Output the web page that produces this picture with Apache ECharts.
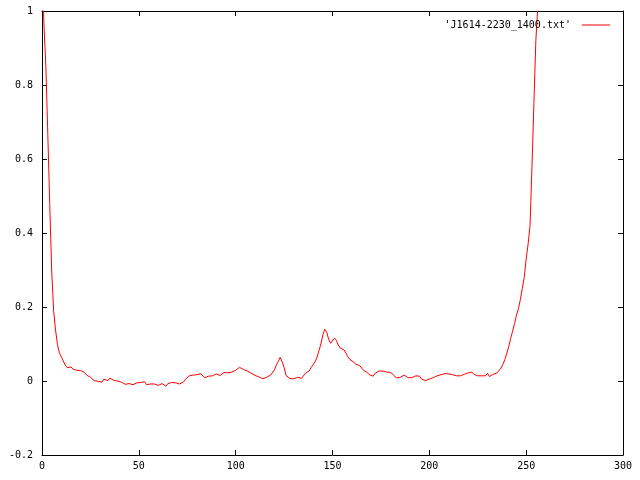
<!DOCTYPE html>
<html>
<head>
<meta charset="utf-8">
<script src="https://cdn.jsdelivr.net/npm/echarts@6/dist/echarts.min.js"></script>
<style>html,body{margin:0;padding:0;background:#fff}#c{width:640px;height:480px}</style>
</head>
<body>
<div id="c"></div>
<script>
const seriesName = "'J1614-2230_1400.txt'";
// sample values, index 0..63
const valuesA = [1.15,0.965,0.85,0.667,0.477,0.30,0.19,0.138,0.098,0.076,0.065,0.054,0.043,0.036,0.035,0.038,
0.032,0.029,0.029,0.028,0.028,0.024,0.023,0.016,0.012,0.010,0.005,0.001,0.003,-0.001,-0.002,-0.003,
0.005,0.004,0.001,0.008,0.003,0.002,0.002,0.000,0.001,-0.003,-0.006,-0.009,-0.009,-0.007,-0.008,-0.010,
-0.006,-0.005,-0.004,-0.004,-0.005,-0.002,-0.010,-0.005,-0.008,-0.006,-0.008,-0.010,-0.012,-0.011,-0.007,-0.005];
// index 64..127
const valuesB = [-0.014,-0.007,-0.006,-0.004,-0.003,-0.005,-0.006,-0.008,-0.006,-0.003,0.004,0.009,0.014,0.016,0.016,0.016,
0.017,0.018,0.020,0.015,0.009,0.006,0.013,0.014,0.014,0.014,0.019,0.016,0.015,0.019,0.023,0.023,
0.022,0.023,0.024,0.026,0.029,0.033,0.037,0.033,0.031,0.032,0.027,0.024,0.021,0.017,0.015,0.013,
0.011,0.008,0.006,0.008,0.010,0.014,0.016,0.021,0.030,0.043,0.053,0.064,0.052,0.037,0.015,0.012];
// index 128..191
const valuesC = [0.007,0.009,0.006,0.010,0.010,0.012,0.007,0.007,0.021,0.024,0.027,0.037,0.044,0.052,0.064,0.082,
0.100,0.124,0.140,0.132,0.113,0.102,0.106,0.116,0.110,0.097,0.089,0.088,0.084,0.075,0.065,0.058,
0.054,0.051,0.045,0.042,0.042,0.037,0.029,0.026,0.023,0.017,0.014,0.013,0.021,0.026,0.027,0.029,
0.027,0.025,0.024,0.022,0.023,0.020,0.014,0.008,0.007,0.010,0.014,0.016,0.014,0.009,0.005,0.009];
// index 192..256
const valuesD = [0.010,0.014,0.016,0.013,0.005,0.002,0.001,0.002,0.005,0.006,0.009,0.010,0.014,0.015,0.017,0.016,
0.020,0.022,0.019,0.018,0.017,0.019,0.014,0.010,0.014,0.017,0.018,0.019,0.022,0.024,0.024,0.018,
0.015,0.014,0.014,0.014,0.016,0.014,0.021,0.012,0.014,0.018,0.019,0.022,0.027,0.035,0.045,0.058,
0.075,0.093,0.115,0.135,0.155,0.178,0.195,0.22,0.25,0.28,0.33,0.37,0.42,0.58,0.75,0.92,1.01];

const yValues = valuesA.concat(valuesB, valuesC, valuesD);
const lineData = yValues.map((v, i) => [i, v]);

const font = 'DejaVu Sans Mono';
const chart = echarts.init(document.getElementById('c'), null, {renderer: 'canvas'});
const axisLine = {show: true, onZero: false, lineStyle: {color: '#000', width: 1}};
const tick = {show: true, inside: true, length: 5, lineStyle: {color: '#000', width: 1}};
chart.setOption({
  animation: false,
  backgroundColor: '#fff',
  grid: {left: 42, right: 17, top: 11, bottom: 25, containLabel: false},
  legend: {
    show: true, right: 25, top: 15, align: 'right', icon: 'rect',
    itemWidth: 28, itemHeight: 1,
    data: [seriesName],
    textStyle: {fontFamily: font, fontSize: 10, color: '#000'},
    formatter: n => n + ' '
  },
  xAxis: [
    {type: 'value', min: 0, max: 300, interval: 50, position: 'bottom',
     axisLine: axisLine, axisTick: tick, splitLine: {show: false},
     axisLabel: {show: true, margin: 6, color: '#000', fontFamily: font, fontSize: 10}},
    {type: 'value', min: 0, max: 300, interval: 50, position: 'top',
     axisLine: axisLine, axisTick: tick, splitLine: {show: false}, axisLabel: {show: false}}
  ],
  yAxis: [
    {type: 'value', min: -0.2, max: 1, interval: 0.2, position: 'left',
     axisLine: axisLine, axisTick: tick, splitLine: {show: false},
     axisLabel: {show: true, margin: 9, color: '#000', fontFamily: font, fontSize: 10,
       formatter: v => String(Math.round(v * 10) / 10)}},
    {type: 'value', min: -0.2, max: 1, interval: 0.2, position: 'right',
     axisLine: axisLine, axisTick: tick, splitLine: {show: false}, axisLabel: {show: false}}
  ],
  series: [{
    name: seriesName, type: 'line', data: lineData,
    xAxisIndex: 0, yAxisIndex: 0,
    showSymbol: false, symbol: 'none', clip: true,
    lineStyle: {color: '#ff0000', width: 1},
    itemStyle: {color: '#ff0000'}
  }]
});
</script>
</body>
</html>
